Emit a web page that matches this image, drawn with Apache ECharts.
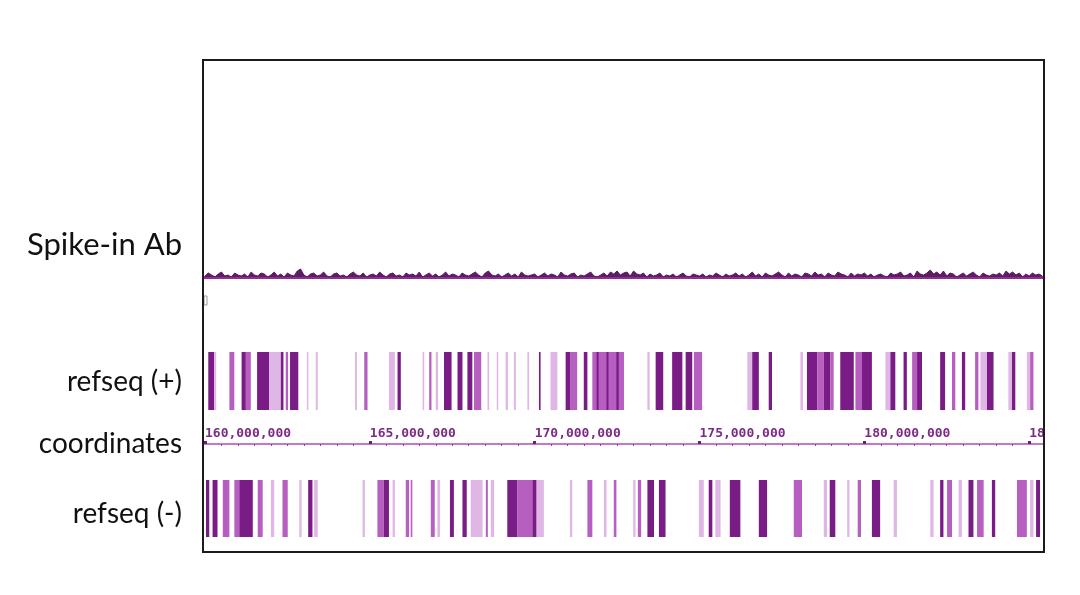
<!DOCTYPE html>
<html>
<head>
<meta charset="utf-8">
<title>Spike-in Ab</title>
<script src="https://cdn.jsdelivr.net/npm/echarts@6/dist/echarts.min.js"></script>
</head>
<body style="margin:0;background:#fff">
<div id="main" style="width:1080px;height:595px"></div>
<script type="text/javascript">
// genome window shown, in Mb
var xMin = 159.97, xMax = 185.42;

var trackNames = ['Spike-in Ab', 'refseq (+)', 'coordinates', 'refseq (-)'];
var majorTicks = [160, 165, 170, 175, 180, 185];
var minorTicks = [160.5, 161, 161.5, 162, 162.5, 163, 163.5, 164, 164.5,
  165.5, 166, 166.5, 167, 167.5, 168, 168.5, 169, 169.5,
  170.5, 171, 171.5, 172, 172.5, 173, 173.5, 174, 174.5,
  175.5, 176, 176.5, 177, 177.5, 178, 178.5, 179, 179.5,
  180.5, 181, 181.5, 182, 182.5, 183, 183.5, 184, 184.5, 185.5];

// spike-in signal, one value per 0.1 Mb bin starting at 160.0
var binStart = 160.0, binSize = 0.1;
var spikeIn = [
  1, 4, 2, 0, 3, 5, 1, 2, 0, 4, 2, 1, 3, 0, 5, 2, 1, 4, 3, 0,
  2, 5, 1, 3, 0, 4, 2, 1, 6, 8, 2, 0, 3, 4, 1, 2, 5, 1, 0, 3,
  4, 1, 2, 0, 3, 5, 2, 1, 4, 0, 2, 3, 1, 5, 2, 0, 3, 4, 1, 2,
  0, 4, 2, 3, 1, 5, 0, 2, 4, 1, 3, 0, 2, 5, 1, 3, 2, 0, 4, 2,
  1, 3, 5, 2, 0, 4, 6, 2, 1, 3, 0, 2, 4, 1, 3, 0, 5, 2, 1, 2,
  3, 0, 2, 4, 1, 3, 2, 0, 5, 2, 1, 3, 4, 0, 2, 1, 3, 5, 1, 0,
  2, 4, 1, 5, 3, 6, 2, 4, 5, 1, 6, 3, 2, 4, 0, 3, 1, 2, 4, 0,
  2, 1, 3, 0, 2, 4, 1, 0, 3, 2, 1, 3, 0, 2, 1, 4, 2, 0, 3, 1,
  2, 4, 1, 3, 0, 2, 5, 1, 3, 0, 4, 2, 1, 3, 5, 2, 0, 4, 1, 3,
  2, 0, 4, 3, 1, 5, 2, 3, 0, 4, 2, 1, 5, 3, 2, 0, 4, 1, 3, 2,
  4, 1, 3, 0, 2, 3, 1, 0, 4, 2, 3, 5, 1, 2, 4, 0, 6, 3, 2, 4,
  7, 3, 5, 2, 6, 1, 4, 3, 0, 2, 4, 1, 3, 5, 2, 0, 4, 2, 1, 3,
  2, 4, 1, 6, 3, 5, 2, 4, 0, 3, 1, 4, 2, 3, 1
];

// genes: [start Mb, end Mb, shade]  shade 0 light, 1 medium, 2 dark
var refseqPlus = [
  [160.10, 160.28, 2], [160.28, 160.34, 0], [160.74, 160.89, 1], [161.11, 161.24, 2],
  [161.24, 161.39, 1], [161.58, 161.95, 2], [161.95, 162.30, 0], [162.30, 162.38, 2],
  [162.45, 162.52, 1], [162.58, 162.83, 2], [163.09, 163.13, 0], [163.36, 163.42, 0],
  [164.55, 164.61, 0], [164.83, 164.93, 1], [165.58, 165.76, 0], [165.84, 165.94, 2],
  [166.60, 166.65, 0], [166.80, 166.87, 1], [167.00, 167.07, 0], [167.25, 167.48, 2],
  [167.66, 167.81, 2], [167.96, 168.11, 2], [168.16, 168.38, 1], [168.57, 168.62, 0],
  [168.85, 168.89, 0], [169.12, 169.19, 0], [169.37, 169.43, 0], [169.78, 169.83, 0],
  [170.13, 170.18, 2], [170.48, 170.69, 0], [170.94, 171.09, 2], [171.09, 171.29, 1],
  [171.49, 171.60, 2], [171.75, 172.71, 1], [171.88, 171.94, 2], [172.18, 172.24, 2],
  [172.48, 172.55, 2], [173.42, 173.49, 0], [173.67, 173.90, 2], [174.17, 174.48, 2],
  [174.58, 174.78, 2], [174.83, 175.08, 1], [176.45, 176.60, 0], [176.60, 176.80, 2],
  [177.10, 177.20, 2], [178.06, 178.14, 0], [178.26, 178.57, 2], [178.57, 178.77, 1],
  [178.77, 178.97, 2], [178.97, 179.07, 1], [179.27, 179.68, 2], [179.73, 179.93, 1],
  [179.93, 180.23, 2], [180.64, 180.79, 0], [180.79, 180.94, 2], [181.19, 181.29, 2],
  [181.45, 181.60, 1], [181.60, 181.75, 2], [182.30, 182.45, 2], [182.66, 182.76, 1],
  [182.96, 183.06, 2], [183.36, 183.46, 1], [183.52, 183.72, 0], [183.72, 183.92, 2],
  [184.37, 184.48, 0], [184.48, 184.58, 2], [184.93, 185.03, 0], [185.03, 185.13, 1]
];
var refseqMinus = [
  [160.03, 160.13, 2], [160.23, 160.38, 2], [160.54, 160.74, 1], [160.89, 161.04, 1],
  [161.04, 161.45, 2], [161.60, 161.75, 1], [162.00, 162.10, 0], [162.35, 162.51, 1],
  [162.86, 162.93, 0], [163.13, 163.26, 2], [163.31, 163.42, 0], [164.78, 164.85, 0],
  [165.23, 165.42, 1], [165.42, 165.58, 2], [165.69, 165.76, 0], [166.09, 166.19, 1],
  [166.24, 166.29, 1], [166.85, 166.97, 1], [167.05, 167.13, 0], [167.43, 167.55, 2],
  [167.81, 167.94, 2], [168.06, 168.42, 0], [168.52, 168.58, 1], [168.67, 168.77, 0],
  [169.17, 169.48, 2], [169.48, 169.93, 1], [169.93, 170.06, 2], [170.06, 170.28, 0],
  [171.07, 171.14, 0], [171.60, 171.75, 1], [172.10, 172.18, 0], [172.40, 172.48, 1],
  [172.99, 173.06, 0], [173.13, 173.23, 1], [173.42, 173.62, 2], [173.77, 173.97, 2],
  [174.98, 175.13, 0], [175.28, 175.39, 2], [175.48, 175.64, 0], [175.92, 176.24, 2],
  [176.80, 177.05, 2], [177.86, 178.11, 1], [178.77, 178.87, 0], [178.95, 179.12, 2],
  [179.48, 179.55, 0], [179.80, 179.90, 1], [180.23, 180.48, 2], [180.89, 180.99, 0],
  [182.00, 182.10, 0], [182.30, 182.40, 2], [182.51, 182.66, 1], [182.86, 182.96, 0],
  [183.16, 183.31, 2], [183.42, 183.62, 1], [183.87, 183.97, 2], [184.63, 184.93, 1],
  [185.03, 185.13, 0], [185.21, 185.33, 2]
];

var shades = ['#e0b6e6', '#b65fc0', '#7a1c85'];

var signalData = spikeIn.map(function (v, i) {
  return [binStart + i * binSize, v];
});

function geneItem(params, api) {
  var a = api.coord([api.value(0), 1]);
  var b = api.coord([api.value(1), 0]);
  return {
    type: 'rect',
    shape: { x: a[0], y: a[1], width: Math.max(b[0] - a[0], 1.5), height: b[1] - a[1] },
    style: { fill: shades[api.value(2)] }
  };
}

function hiddenX(gi) {
  return { type: 'value', gridIndex: gi, min: xMin, max: xMax, show: false };
}
function hiddenY(gi, max) {
  return { type: 'value', gridIndex: gi, min: 0, max: max, show: false };
}
function track(top, height) {
  return { left: 204, width: 839, top: top, height: height, outerBoundsMode: 'none', containLabel: false };
}

var myChart = echarts.init(document.getElementById('main'));

var labelY = [245, 382, 444, 514];
var labelSize = [31, 28, 28, 28];
var texts = trackNames.map(function (t, i) {
  return {
    type: 'text', x: 182, y: labelY[i], z: 10,
    style: {
      text: t, fill: '#111', align: 'right', verticalAlign: 'middle',
      font: labelSize[i] + 'px Lato'
    }
  };
});

var option = {
  animation: false,
  grid: [track(227, 50), track(352, 58), track(400, 44), track(480, 57)],
  xAxis: [
    {
      type: 'value', gridIndex: 0, min: xMin, max: xMax,
      axisLine: { show: true, onZero: false, lineStyle: { color: '#8d2f96', width: 3 } },
      axisTick: { show: false }, axisLabel: { show: false }, splitLine: { show: false }
    },
    hiddenX(1),
    {
      type: 'value', gridIndex: 2, min: xMin, max: xMax,
      axisLine: { show: true, onZero: false, lineStyle: { color: '#c07ac8', width: 2 } },
      axisTick: { show: true, inside: true, length: 3, customValues: majorTicks,
        lineStyle: { color: '#6b1f74', width: 3 } },
      axisLabel: {
        show: true, inside: true, margin: 4, align: 'left', customValues: majorTicks,
        color: '#7d2a87', fontFamily: 'DejaVu Sans Mono', fontWeight: 'bold', fontSize: 13,
        formatter: function (v) { return Math.round(v * 1e6).toLocaleString('en-US'); }
      },
      splitLine: { show: false }
    },
    hiddenX(3),
    {
      type: 'value', gridIndex: 2, min: xMin, max: xMax,
      axisLine: { show: false },
      axisTick: { show: true, inside: true, length: 2, customValues: minorTicks,
        lineStyle: { color: '#8f3a98', width: 1 } },
      axisLabel: { show: false }, splitLine: { show: false }
    }
  ],
  yAxis: [hiddenY(0, 50), hiddenY(1, 1), hiddenY(2, 1), hiddenY(3, 1)],
  series: [
    {
      type: 'line', xAxisIndex: 0, yAxisIndex: 0, data: signalData,
      showSymbol: false, lineStyle: { color: '#5c1d63', width: 1 },
      areaStyle: { color: '#5c1d63', opacity: 1 }
    },
    {
      type: 'custom', xAxisIndex: 1, yAxisIndex: 1, data: refseqPlus,
      renderItem: geneItem, clip: true
    },
    {
      type: 'custom', xAxisIndex: 3, yAxisIndex: 3, data: refseqMinus,
      renderItem: geneItem, clip: true
    }
  ],
  graphic: texts.concat([
    { type: 'rect', z: 9, shape: { x: 1044, y: 415, width: 36, height: 40 },
      style: { fill: '#fff' } },
    { type: 'rect', z: 8, shape: { x: 204, y: 296, width: 3, height: 9 },
      style: { fill: 'none', stroke: '#999', lineWidth: 1 } },
    { type: 'rect', z: 10, shape: { x: 203, y: 60, width: 841, height: 492 },
      style: { fill: 'none', stroke: '#1b1b1b', lineWidth: 2 } }
  ])
};

myChart.setOption(option);
</script>
</body>
</html>
